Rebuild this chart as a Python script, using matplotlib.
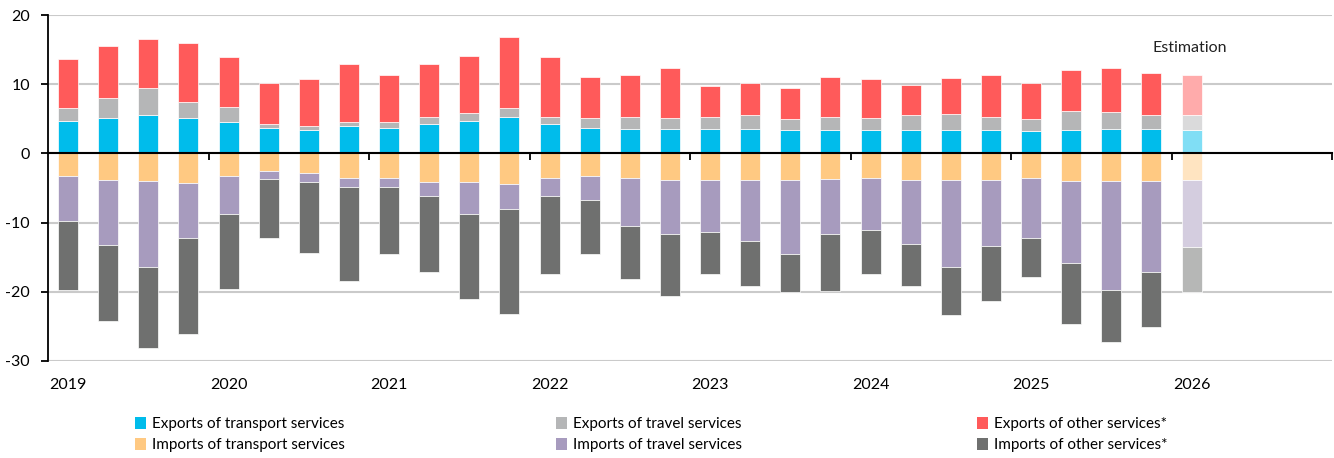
import numpy as np
import matplotlib
matplotlib.use("Agg")
import matplotlib.pyplot as plt
from matplotlib.patches import Patch
from matplotlib.transforms import blended_transform_factory

plt.rcParams["font.family"] = ["Lato", "DejaVu Sans"]
plt.rcParams["axes.unicode_minus"] = False

# quarterly data 2019Q1 .. 2025Q4, last value (2026Q1) is an estimate
years = ["2019", "2020", "2021", "2022", "2023", "2024", "2025", "2026"]
exp_transport = [4.7, 5.1, 5.5, 5.1, 4.6, 3.7, 3.4, 4.0, 3.7, 4.3, 4.7, 5.3, 4.2, 3.7, 3.5,
                 3.5, 3.5, 3.6, 3.4, 3.4, 3.4, 3.4, 3.4, 3.4, 3.2, 3.4, 3.5, 3.5, 3.4]
exp_travel = [1.9, 2.9, 3.9, 2.4, 2.1, 0.6, 0.6, 0.6, 0.8, 1.0, 1.1, 1.2, 1.1, 1.4, 1.7,
              1.6, 1.7, 1.9, 1.6, 1.8, 1.7, 2.1, 2.3, 1.8, 1.8, 2.7, 2.5, 2.0, 2.2]
exp_other = [7.0, 7.5, 7.2, 8.4, 7.2, 5.9, 6.7, 8.3, 6.9, 7.7, 8.3, 10.4, 8.6, 6.0, 6.1,
             7.2, 4.5, 4.7, 4.4, 5.8, 5.6, 4.4, 5.2, 6.1, 5.2, 5.9, 6.3, 6.1, 5.7]
imp_transport = [-3.3, -3.8, -4.0, -4.3, -3.2, -2.6, -2.8, -3.6, -3.6, -4.1, -4.1, -4.4, -3.6, -3.2, -3.6,
                 -3.8, -3.9, -3.9, -3.9, -3.7, -3.6, -3.8, -3.8, -3.9, -3.6, -4.0, -4.0, -4.0, -3.9]
imp_travel = [-6.5, -9.4, -12.4, -7.9, -5.5, -1.1, -1.3, -1.2, -1.3, -2.1, -4.6, -3.6, -2.6, -3.5, -6.9,
              -7.9, -7.5, -8.7, -10.6, -7.9, -7.4, -9.3, -12.6, -9.5, -8.6, -11.9, -15.8, -13.1, -9.6]
imp_other = [-9.9, -11.1, -11.8, -13.9, -10.9, -8.5, -10.3, -13.6, -9.6, -10.9, -12.3, -15.2, -11.2, -7.9, -7.6,
             -8.9, -6.1, -6.6, -5.5, -8.3, -6.5, -6.1, -6.9, -7.9, -5.7, -8.7, -7.5, -8.0, -6.6]
n_estimated = 1

series_exp = [
    ("Exports of transport services", exp_transport, "#00BCEB", "#80DEF5"),
    ("Exports of travel services", exp_travel, "#B5B6B7", "#DADADB"),
    ("Exports of other services*", exp_other, "#FF5A5A", "#FFABAB"),
]
series_imp = [
    ("Imports of transport services", imp_transport, "#FFC982", "#FFE4C1"),
    ("Imports of travel services", imp_travel, "#A79BBE", "#D4CDDF"),
    ("Imports of other services*", imp_other, "#6F706F", "#B6B7B6"),
]

n = len(exp_transport)
x = np.arange(n)
colors_mask = np.arange(n) >= n - n_estimated

fig = plt.figure(figsize=(13.34, 4.58), dpi=100)
ax = fig.add_axes([0.036, 0.212, 0.9625, 0.755])

for group in (series_exp, series_imp):
    bottom = np.zeros(n)
    for label, vals, col, light in group:
        vals = np.array(vals)
        cols = [light if est else col for est in colors_mask]
        ax.bar(x, vals, width=0.5, bottom=bottom, color=cols,
               edgecolor="white", linewidth=0.5, zorder=2)
        bottom = bottom + vals

ax.set_xlim(-0.5, 31.5)
ax.set_ylim(-30, 20)
ax.set_yticks([-30, -20, -10, 0, 10, 20])
ax.yaxis.grid(True, color="#CACACA", linewidth=1.5, zorder=0)
ax.set_axisbelow(True)

for s in ["top", "right"]:
    ax.spines[s].set_visible(False)
ax.spines["left"].set_linewidth(1.3)
ax.spines["bottom"].set_position(("data", 0))
ax.spines["bottom"].set_linewidth(1.5)
ax.spines["bottom"].set_zorder(3)

ax.set_xticks(np.arange(3.5, 32, 4))
ax.set_xticklabels([])
ax.tick_params(axis="x", direction="out", length=5, width=1.3)
ax.tick_params(axis="y", direction="out", length=5, width=1.3, labelsize=11.5, pad=8)

trans = blended_transform_factory(ax.transData, ax.transAxes)
for i, yr in enumerate(years):
    ax.text(i * 4, -0.07, yr, transform=trans, ha="center", va="center", fontsize=11.5)

ax.text(27.95, 15.3, "Estimation", ha="center", va="center", fontsize=11.5, color="#222222")

cols_x = [0.1015, 0.417, 0.7325]
for k in range(3):
    e = series_exp[k]
    m = series_imp[k]
    handles = [Patch(facecolor=e[2], edgecolor="none"), Patch(facecolor=m[2], edgecolor="none")]
    fig.legend(handles, [e[0], m[0]], loc="upper left", bbox_to_anchor=(cols_x[k], 0.09),
               frameon=False, fontsize=11, handlelength=0.7, handleheight=0.9,
               handletextpad=0.4, labelspacing=0.42, borderpad=0, borderaxespad=0)

fig.savefig("out.png", dpi=100)
